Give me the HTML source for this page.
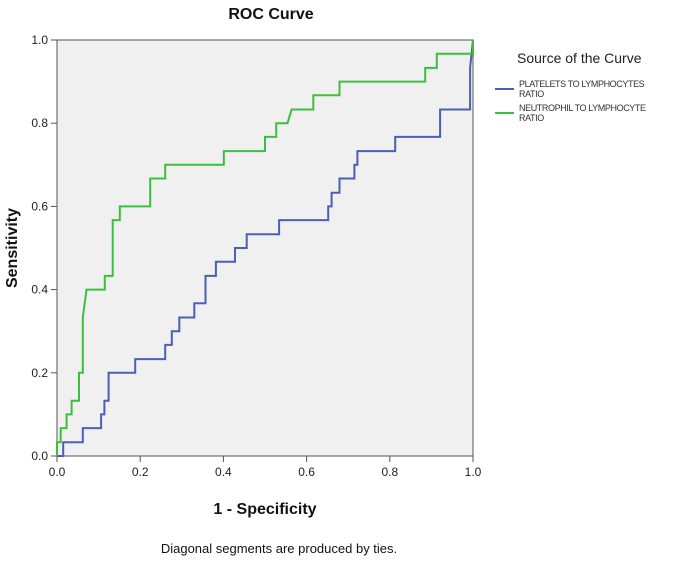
<!DOCTYPE html>
<html><head><meta charset="utf-8"><style>
body{margin:0;background:#fff;width:685px;height:561px;overflow:hidden;font-family:"Liberation Sans",Arial,sans-serif}
</style></head><body>
<svg id="chart" width="685" height="561" xmlns="http://www.w3.org/2000/svg" font-family="Liberation Sans, Arial, sans-serif">
<text x="271" y="19" text-anchor="middle" font-size="16" font-weight="bold" fill="#111">ROC Curve</text>
<rect x="57" y="40" width="416" height="416" fill="#f0f0f0" stroke="#555" stroke-width="1"/>
<g id="ticks"></g>
<g id="series"></g>
<text x="265" y="514" text-anchor="middle" font-size="16" font-weight="bold" fill="#111">1 - Specificity</text>
<text transform="translate(17,248) rotate(-90)" text-anchor="middle" font-size="16" font-weight="bold" fill="#111">Sensitivity</text>
<text x="279" y="553" text-anchor="middle" font-size="13" fill="#111">Diagonal segments are produced by ties.</text>
<g>
<text x="517" y="63" font-size="14" fill="#222">Source of the Curve</text>
<line x1="495" y1="89" x2="514" y2="89" stroke="#4a5fb5" stroke-width="2"/>
<text font-size="9" fill="#333" letter-spacing="-0.4"><tspan x="519" y="87">PLATELETS TO LYMPHOCYTES</tspan><tspan x="519" y="97">RATIO</tspan></text>
<line x1="495" y1="113" x2="514" y2="113" stroke="#3cbf3c" stroke-width="2"/>
<text font-size="9" fill="#333" letter-spacing="-0.4"><tspan x="519" y="111">NEUTROPHIL TO LYMPHOCYTE</tspan><tspan x="519" y="121">RATIO</tspan></text>
</g>
</svg>
<script>
const tickValues = [0, 0.2, 0.4, 0.6, 0.8, 1.0];
const tickLabels = ["0.0", "0.2", "0.4", "0.6", "0.8", "1.0"];
const nlrFpr = [0,0,0.009,0.009,0.023,0.023,0.035,0.035,0.053,0.053,0.062,0.062,0.071,0.115,0.115,0.134,0.134,0.151,0.151,0.224,0.224,0.26,0.26,0.401,0.401,0.5,0.5,0.527,0.527,0.554,0.564,0.616,0.616,0.679,0.679,0.885,0.885,0.913,0.913,1,1];
const nlrTpr = [0,0.033,0.033,0.067,0.067,0.1,0.1,0.133,0.133,0.2,0.2,0.333,0.4,0.4,0.433,0.433,0.567,0.567,0.6,0.6,0.667,0.667,0.7,0.7,0.733,0.733,0.767,0.767,0.8,0.8,0.833,0.833,0.867,0.867,0.9,0.9,0.933,0.933,0.967,0.967,1];
const plrFpr = [0,0.015,0.015,0.062,0.062,0.106,0.106,0.114,0.114,0.124,0.124,0.188,0.188,0.26,0.26,0.276,0.276,0.294,0.294,0.33,0.33,0.357,0.357,0.382,0.382,0.428,0.428,0.456,0.456,0.534,0.534,0.652,0.652,0.66,0.66,0.679,0.679,0.715,0.715,0.722,0.722,0.813,0.813,0.921,0.921,0.993,0.993,1];
const plrTpr = [0,0,0.033,0.033,0.067,0.067,0.1,0.1,0.133,0.133,0.2,0.2,0.233,0.233,0.267,0.267,0.3,0.3,0.333,0.333,0.367,0.367,0.433,0.433,0.467,0.467,0.5,0.5,0.533,0.533,0.567,0.567,0.6,0.6,0.633,0.633,0.667,0.667,0.7,0.7,0.733,0.733,0.767,0.767,0.833,0.833,0.933,1];

const X0=57, X1=473, Y0=456, Y1=40;
function xs(v){return X0+(X1-X0)*v;}
function ys(v){return Y0-(Y0-Y1)*v;}
const NS="http://www.w3.org/2000/svg";
const tg=document.getElementById('ticks');
tickValues.forEach((v,i)=>{
  let l=document.createElementNS(NS,'line');
  l.setAttribute('x1',xs(v));l.setAttribute('x2',xs(v));l.setAttribute('y1',Y0);l.setAttribute('y2',Y0+6);
  l.setAttribute('stroke','#555');
  
  
  tg.appendChild(l);
  let t=document.createElementNS(NS,'text');
  t.setAttribute('x',xs(v));t.setAttribute('y',Y0+20);t.setAttribute('text-anchor','middle');t.setAttribute('font-size','12');t.setAttribute('fill','#222');
  t.textContent=tickLabels[i];
  
  
  tg.appendChild(t);
  let l2=document.createElementNS(NS,'line');
  l2.setAttribute('x1',X0-6);l2.setAttribute('x2',X0);l2.setAttribute('y1',ys(v));l2.setAttribute('y2',ys(v));
  l2.setAttribute('stroke','#555');
  
  
  tg.appendChild(l2);
  let t2=document.createElementNS(NS,'text');
  t2.setAttribute('x',X0-9);t2.setAttribute('y',ys(v)+4);t2.setAttribute('text-anchor','end');t2.setAttribute('font-size','12');t2.setAttribute('fill','#222');
  t2.textContent=tickLabels[i];
  
  
  tg.appendChild(t2);
});
function draw(fx,ty,color,name){
  let d=fx.map((v,i)=>(i?'L':'M')+xs(v).toFixed(1)+' '+ys(ty[i]).toFixed(1)).join(' ');
  let p=document.createElementNS(NS,'path');
  p.setAttribute('d',d);p.setAttribute('fill','none');p.setAttribute('stroke',color);p.setAttribute('stroke-width','2');
  
  
  document.getElementById('series').appendChild(p);
}
draw(plrFpr,plrTpr,'#4a5fb5','plr-roc-line');
draw(nlrFpr,nlrTpr,'#3cbf3c','nlr-roc-line');
</script>
</body></html>
